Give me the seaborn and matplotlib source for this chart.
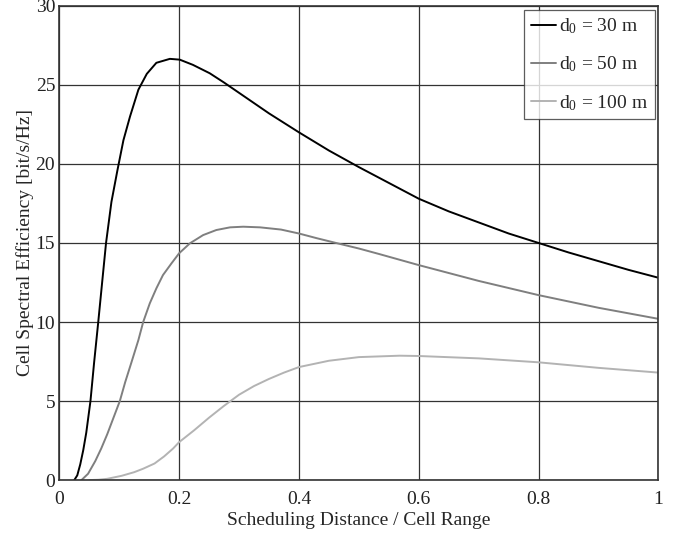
import pandas as pd
import numpy as np
import matplotlib
matplotlib.use('Agg')
import matplotlib.pyplot as plt
import seaborn as sns

# values
x_d30 = [0.025, 0.03, 0.035, 0.04, 0.045, 0.052, 0.058, 0.065, 0.072, 0.078, 0.087, 0.097, 0.107,
         0.118, 0.132, 0.146, 0.162, 0.1845, 0.201, 0.223, 0.251, 0.275, 0.3, 0.35, 0.4, 0.45,
         0.5, 0.55, 0.6, 0.65, 0.7, 0.75, 0.8, 0.85, 0.9, 0.95, 1.0]
y_d30 = [0.0, 0.3, 1.0, 1.9, 3.0, 5.0, 7.4, 10.0, 12.7, 15.0, 17.6, 19.6, 21.5,
         23.0, 24.7, 25.7, 26.4, 26.65, 26.6, 26.27, 25.74, 25.15, 24.5, 23.2, 22.0, 20.85,
         19.8, 18.8, 17.8, 17.0, 16.3, 15.6, 15.0, 14.4, 13.85, 13.3, 12.8]

x_d50 = [0.037, 0.048, 0.06, 0.07, 0.08, 0.09, 0.101, 0.11, 0.12, 0.132, 0.14, 0.151, 0.162,
         0.173, 0.187, 0.2, 0.218, 0.24, 0.262, 0.285, 0.307, 0.335, 0.37, 0.4, 0.43, 0.462,
         0.5, 0.534, 0.6, 0.65, 0.7, 0.75, 0.8, 0.85, 0.9, 0.95, 1.0]
y_d50 = [0.0, 0.4, 1.2, 2.0, 2.9, 3.9, 5.0, 6.2, 7.4, 8.86, 10.0, 11.18, 12.13,
         12.97, 13.7, 14.35, 14.98, 15.5, 15.82, 15.99, 16.03, 15.99, 15.85, 15.6, 15.3, 15.0,
         14.65, 14.3, 13.6, 13.1, 12.6, 12.15, 11.7, 11.3, 10.9, 10.55, 10.2]

x_d100 = [0.05, 0.065, 0.08, 0.104, 0.125, 0.14, 0.159, 0.175, 0.19, 0.2, 0.225, 0.25, 0.275,
          0.3, 0.325, 0.35, 0.375, 0.4, 0.45, 0.5, 0.568, 0.6, 0.7, 0.8, 0.9, 1.0]
y_d100 = [0.0, 0.02, 0.08, 0.27, 0.5, 0.72, 1.05, 1.5, 2.0, 2.4, 3.15, 3.95, 4.7,
          5.4, 5.95, 6.4, 6.8, 7.15, 7.55, 7.78, 7.87, 7.85, 7.7, 7.45, 7.1, 6.8]

labels = [r'$\mathregular{d_0}$ = 30 m', r'$\mathregular{d_0}$ = 50 m', r'$\mathregular{d_0}$ = 100 m']
colors = ['#000000', '#7f7f7f', '#b3b3b3']

df = pd.concat([
    pd.DataFrame({'x': x_d30, 'y': y_d30, 'case': labels[0]}),
    pd.DataFrame({'x': x_d50, 'y': y_d50, 'case': labels[1]}),
    pd.DataFrame({'x': x_d100, 'y': y_d100, 'case': labels[2]}),
])

sns.set_theme(style="white")
plt.rcParams['font.family'] = ['Liberation Serif', 'DejaVu Serif']
plt.rcParams['mathtext.fontset'] = 'custom'
plt.rcParams['mathtext.rm'] = 'Liberation Serif'

fig = plt.figure(figsize=(6.84, 5.37), dpi=100)
ax = fig.add_axes([0.0867, 0.106, 0.876, 0.883])

sns.lineplot(data=df, x='x', y='y', hue='case', palette=colors, hue_order=labels,
             linewidth=1.4, sort=False, estimator=None, ax=ax)

ax.set_xlim(0, 1)
ax.set_ylim(0, 30)
ax.set_xticks([0, 0.2, 0.4, 0.6, 0.8, 1.0])
ax.set_xticklabels(['0', '0.2', '0.4', '0.6', '0.8', '1'])
ax.set_yticks([0, 5, 10, 15, 20, 25, 30])
ax.grid(True, color='#333333', linewidth=0.9)
ax.set_axisbelow(True)
for s in ax.spines.values():
    s.set_color('#333333')
    s.set_linewidth(1.2)
ax.tick_params(length=0, labelsize=14, colors='#222222')
ax.tick_params(axis='x', pad=8)
ax.tick_params(axis='y', pad=3)

ax.set_xlabel('Scheduling Distance / Cell Range', fontsize=14, labelpad=3)
ax.set_ylabel('Cell Spectral Efficiency [bit/s/Hz]', fontsize=14, labelpad=1)

leg = ax.legend(loc='upper right', fontsize=14, frameon=True, fancybox=False,
                edgecolor='#333333', handlelength=1.3, handletextpad=0.15,
                labelspacing=0.95, borderpad=0.35, borderaxespad=0.2)
leg.get_frame().set_linewidth(0.9)

plt.savefig('out.png', dpi=100)
